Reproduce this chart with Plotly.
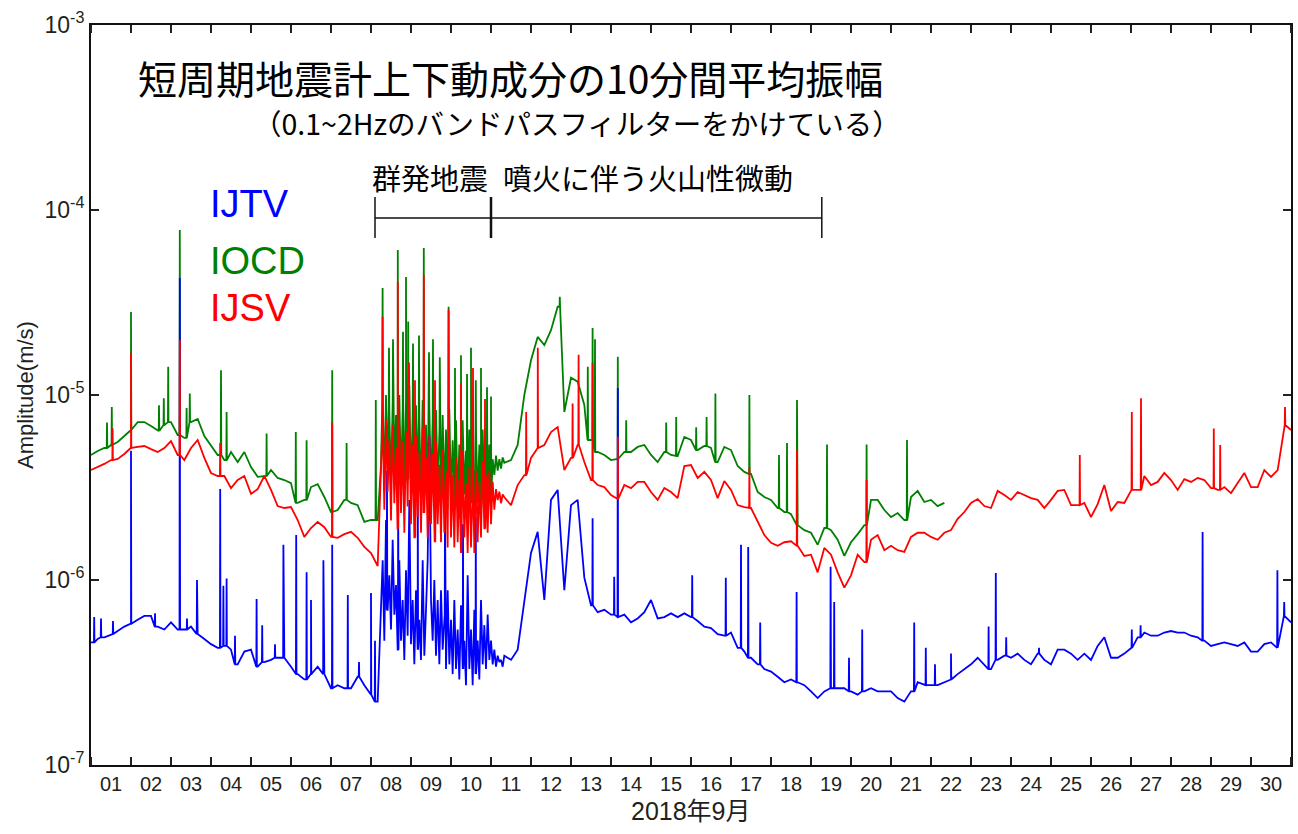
import numpy as np
import pandas as pd
import plotly.graph_objects as go

# 10-minute mean amplitude of short-period vertical seismometers, Sep 2018.
# Amplitudes are in micrometres per second (1e-6 m/s); time is in days from 2018-09-01 00:00.
UNIT = 1e-6
START = pd.Timestamp("2018-09-01")

t_before = np.arange(44) / 6            # every 4 h, Sep 1 00:00 - Sep 8 04:00
t_swarm = 7.25 + np.arange(75) / 24     # hourly through the earthquake swarm
t_after = np.arange(63, 181) / 6        # every 4 h, Sep 11 12:00 - Oct 1 00:00

# ---------------- IJTV ----------------
ijtv_before = [
    0.46, 0.48, 0.49, 0.51, 0.53, 0.56,
    0.58, 0.61, 0.64, 0.64, 0.56, 0.54,
    0.59, 0.54, 0.54, 0.56, 0.51, 0.48,
    0.45, 0.43, 0.44, 0.42, 0.35, 0.41,
    0.42, 0.34, 0.36, 0.37, 0.38, 0.38,
    0.34, 0.31, 0.29, 0.31, 0.34, 0.31,
    0.26, 0.27, 0.26, 0.26, 0.30, 0.27,
    0.24, 0.22,
]
ijtv_swarm = [
    0.78, 1.28, 0.47, 2.11, 0.69, 1.06, 0.54, 1.65, 0.65, 0.94,
    0.42, 1.28, 0.47, 0.78, 0.37, 1.13, 0.50, 2.71, 0.45, 0.78,
    0.35, 0.88, 0.42, 0.61, 0.37, 1.28, 0.39, 0.69, 1.28, 6.0,
    0.78, 0.47, 1.00, 0.39, 0.78, 0.35, 0.88, 0.42, 0.65, 0.33,
    0.88, 0.35, 0.61, 0.31, 0.78, 0.33, 0.54, 0.29, 0.73, 0.33,
    0.47, 0.27, 1.06, 0.33, 0.54, 0.27, 0.69, 0.31, 0.47, 0.29,
    0.78, 0.35, 0.57, 0.33, 0.65, 0.37, 0.47, 0.35, 0.42, 0.34,
    0.39, 0.36, 0.37, 0.34, 0.39,
]
ijtv_after = [
    0.37, 0.42, 0.78, 1.40, 1.82, 0.78,
    2.71, 3.07, 0.88, 2.54, 2.71, 1.03,
    0.73, 0.67, 0.69, 0.65, 0.63, 0.65,
    0.59, 0.62, 0.67, 0.78, 0.62, 0.63,
    0.66, 0.63, 0.66, 0.63, 0.60, 0.56,
    0.55, 0.51, 0.50, 0.52, 0.43, 0.41,
    0.38, 0.35, 0.33, 0.32, 0.30, 0.28,
    0.29, 0.28, 0.27, 0.25, 0.23, 0.25,
    0.26, 0.26, 0.26, 0.25, 0.24, 0.25,
    0.26, 0.25, 0.25, 0.25, 0.23, 0.22,
    0.25, 0.28, 0.27, 0.27, 0.27, 0.28,
    0.29, 0.31, 0.33, 0.35, 0.38, 0.35,
    0.33, 0.37, 0.39, 0.38, 0.40, 0.37,
    0.35, 0.40, 0.37, 0.35, 0.42, 0.42,
    0.40, 0.37, 0.40, 0.37, 0.44, 0.49,
    0.38, 0.38, 0.40, 0.43, 0.49, 0.52,
    0.50, 0.50, 0.52, 0.53, 0.52, 0.52,
    0.50, 0.49, 0.47, 0.44, 0.45, 0.46,
    0.45, 0.44, 0.46, 0.41, 0.41, 0.45,
    0.46, 0.43, 0.64, 0.59,
]
# isolated events: (day, peak amplitude)
ijtv_spikes = [
    (0.08, 0.63), (0.25, 0.62), (0.55, 0.60), (1.00, 5.0), (1.60, 0.66),
    (2.22, 42.9), (2.40, 0.62), (2.65, 1.00), (3.23, 3.1), (3.31, 0.93),
    (3.39, 1.02), (3.60, 0.50), (4.14, 0.79), (4.28, 0.57), (4.60, 0.45),
    (4.81, 1.55), (5.13, 1.75), (5.39, 1.10), (5.50, 0.78), (5.81, 1.28),
    (6.03, 1.55), (6.42, 0.83), (6.70, 0.36), (7.00, 0.85), (7.10, 0.47),
    (7.40, 3.9), (7.68, 3.5), (8.17, 3.3), (8.85, 2.4), (9.30, 2.0), (9.62, 2.2),
    (12.54, 2.16), (13.08, 1.04), (13.17, 10.9), (15.03, 1.06), (15.87, 1.03),
    (16.25, 1.55), (16.43, 1.51), (16.73, 0.59), (17.64, 0.86), (18.49, 1.18),
    (18.58, 0.76), (18.95, 0.38), (19.28, 0.54), (20.58, 0.59), (20.87, 0.43),
    (21.10, 0.35), (21.50, 0.40), (22.44, 0.56), (22.62, 1.09), (22.88, 0.49),
    (23.70, 0.43), (26.02, 0.54), (26.24, 0.57), (27.79, 1.82), (29.66, 1.13),
    (29.83, 0.76),
]

# ---------------- IOCD ----------------
iocd_before = [
    4.74, 4.98, 5.17, 5.37, 5.57, 6.00,
    6.47, 7.14, 7.14, 6.80, 6.39, 6.88,
    7.14, 6.08, 5.86, 7.14, 7.42, 6.00,
    5.37, 4.74, 4.45, 4.92, 4.34, 4.92,
    4.08, 3.61, 3.65, 3.93, 3.56, 3.47,
    3.34, 2.61, 2.71, 3.18, 3.30, 2.81,
    2.33, 2.39, 2.71, 2.61, 2.54, 2.06,
    2.11, 2.11,
]
iocd_swarm = [
    4.2, 9.4, 3.0, 10.0, 3.8, 8.3, 3.1, 9.4, 3.6, 7.8,
    2.8, 10.0, 3.3, 8.3, 2.7, 9.4, 3.5, 11.3, 3.0, 7.8,
    2.6, 8.8, 3.2, 7.3, 2.7, 9.4, 3.4, 6.9, 2.6, 8.8,
    3.0, 7.3, 2.5, 8.3, 3.2, 6.5, 2.5, 7.8, 2.9, 6.5,
    2.4, 8.3, 2.8, 5.7, 2.4, 7.3, 2.6, 5.4, 2.3, 7.3,
    2.9, 5.0, 2.3, 6.5, 2.6, 5.0, 2.2, 6.1, 2.6, 5.4,
    2.4, 6.5, 2.8, 5.7, 2.6, 5.4, 2.8, 4.5, 3.7, 4.7,
    3.9, 4.5, 4.0, 4.6, 4.3,
]
# the IOCD record stops on Sep 22
iocd_after = [
    4.45, 5.37, 10.0, 15.4, 20.6, 18.6,
    22.4, 30.0, 8.09, 12.4, 11.8, 8.83,
    5.71, 4.92, 4.74, 4.45, 4.51, 4.92,
    4.92, 5.24, 5.37, 4.74, 4.34, 4.92,
    4.74, 4.68, 5.93, 5.71, 5.04, 5.30,
    5.17, 4.34, 5.24, 5.04, 4.13, 3.84,
    3.74, 2.99, 2.81, 2.71, 2.45, 2.33,
    2.27, 1.98, 1.86, 1.80, 1.55, 1.91,
    1.86, 1.65, 1.35, 1.60, 1.77, 1.98,
    2.71, 2.71, 2.39, 2.19, 2.30, 2.11,
    2.81, 3.03, 2.64, 2.71, 2.51, 2.61,
]
iocd_spikes = [
    (0.40, 7.1), (0.52, 8.6), (1.00, 28.1), (1.70, 8.8), (1.82, 9.6),
    (1.93, 14.2), (2.22, 78.0), (2.39, 8.5), (2.47, 10.2), (3.25, 13.6),
    (3.39, 8.1), (4.39, 6.2), (5.12, 6.3), (5.39, 5.7), (6.03, 13.6),
    (6.39, 5.5), (7.12, 9.4),
    (7.29, 37.9), (7.45, 18.0), (7.55, 20.0), (7.67, 60.8), (7.80, 22.0),
    (7.875, 43.4), (7.93, 25.0), (8.05, 19.0), (8.20, 21.0), (8.32, 62.3),
    (8.45, 17.0), (8.55, 20.0), (8.72, 16.0), (8.94, 30.0), (9.10, 14.0),
    (9.25, 16.4), (9.40, 13.0), (9.50, 18.0), (9.62, 12.0), (9.75, 14.0),
    (9.90, 11.0), (10.00, 9.8),
    (11.72, 34.0), (12.42, 14.2), (12.54, 23.0), (12.60, 20.0), (13.17, 16.1),
    (13.38, 7.3), (14.38, 7.1), (14.63, 7.6), (15.13, 6.7), (15.39, 7.6),
    (15.61, 10.2), (16.46, 10.0), (17.20, 4.74), (17.40, 5.5), (17.65, 9.4),
    (18.40, 5.4), (19.39, 5.4), (20.40, 5.71),
]

# ---------------- IJSV ----------------
ijsv_before = [
    3.93, 4.08, 4.24, 4.45, 4.51, 4.80,
    5.17, 5.24, 5.30, 5.10, 4.92, 5.17,
    5.64, 4.74, 4.45, 5.17, 5.71, 4.57,
    3.79, 3.65, 3.65, 3.14, 3.47, 3.65,
    2.92, 3.10, 3.65, 3.07, 2.51, 2.45,
    2.48, 2.11, 1.71, 1.91, 2.06, 1.93,
    1.71, 1.69, 1.77, 1.82, 1.69, 1.51,
    1.40, 1.19,
]
ijsv_swarm = [
    3.9, 6.5, 2.4, 7.4, 3.0, 5.8, 2.1, 6.9, 2.6, 5.2,
    1.9, 6.8, 2.3, 5.6, 1.8, 6.3, 2.5, 7.8, 2.0, 5.4,
    1.7, 6.0, 2.2, 5.0, 1.8, 6.6, 2.3, 4.6, 1.7, 6.0,
    2.0, 4.8, 1.6, 5.6, 2.0, 4.2, 1.6, 5.1, 1.8, 3.9,
    1.5, 5.4, 1.7, 3.7, 1.5, 4.6, 1.6, 3.5, 1.4, 5.0,
    1.7, 3.3, 1.4, 4.1, 1.5, 3.1, 1.4, 3.9, 1.6, 3.4,
    1.7, 4.4, 1.9, 3.7, 1.8, 3.9, 2.0, 3.4, 2.4, 3.1,
    2.7, 3.0, 2.6, 2.9, 2.8,
]
ijsv_after = [
    2.54, 3.26, 3.69, 4.57, 5.17, 5.37,
    6.31, 6.71, 3.93, 4.57, 5.37, 4.34,
    3.47, 3.26, 3.18, 2.88, 2.74, 3.26,
    3.14, 3.39, 3.39, 2.99, 2.71, 3.14,
    2.99, 2.77, 4.13, 4.18, 3.56, 3.84,
    3.47, 2.77, 3.43, 3.07, 2.54, 2.48,
    2.45, 2.06, 1.75, 1.59, 1.53, 1.60,
    1.62, 1.53, 1.35, 1.37, 1.10, 1.49,
    1.37, 1.10, 0.91, 1.06, 1.37, 1.25,
    1.65, 1.75, 1.45, 1.53, 1.45, 1.42,
    1.71, 1.80, 1.80, 1.71, 1.65, 1.80,
    1.86, 2.14, 2.33, 2.61, 2.74, 2.51,
    2.45, 3.03, 2.88, 2.71, 2.99, 2.88,
    2.77, 2.71, 2.45, 2.71, 3.03, 3.07,
    2.54, 2.54, 2.61, 2.19, 2.57, 3.26,
    2.36, 2.64, 2.61, 3.07, 3.07, 3.65,
    3.26, 3.39, 3.79, 3.47, 3.07, 3.51,
    3.39, 3.56, 3.47, 3.14, 3.07, 3.18,
    2.95, 3.34, 3.79, 3.18, 3.18, 3.93,
    3.61, 3.93, 6.88, 6.47,
]
ijsv_spikes = [
    (0.54, 6.6), (1.00, 16.9), (2.22, 19.8), (3.23, 5.5), (6.03, 7.1),
    (7.29, 26.5), (7.67, 41.0), (7.95, 15.0), (8.10, 12.0), (8.32, 44.5),
    (8.60, 12.0), (8.94, 28.8), (9.25, 11.6), (9.55, 14.0), (9.85, 9.5),
    (10.88, 8.1), (11.17, 18.0), (12.04, 9.0), (12.19, 16.5), (12.54, 14.9),
    (13.17, 5.95), (16.46, 4.08), (17.65, 5.04), (19.39, 3.47), (24.72, 4.74),
    (26.02, 8.1), (26.25, 9.6), (28.07, 6.6), (28.23, 5.37), (29.85, 8.6),
]

# activity periods marked above the traces (days)
swarm_start = 7.10
tremor_start = 10.00
tremor_end = 18.27

HALF = 1 / 144  # half width of a single 10-minute sample


def to_date(days):
    return START + pd.to_timedelta(np.asarray(days, dtype=float), unit="D")


def build(segments, spikes):
    t = np.concatenate([np.asarray(ts)[:len(vs)] for ts, vs in segments])
    v = np.concatenate([np.asarray(vs, dtype=float) for _, vs in segments])
    pts = list(zip(t, v))
    for ts, peak in spikes:
        foot = v[np.argmin(np.abs(t - ts))]
        pts += [(ts - HALF, foot), (ts, peak), (ts + HALF, foot)]
    pts.sort()
    tt = np.array([p[0] for p in pts])
    vv = np.array([p[1] for p in pts]) * UNIT
    return to_date(tt), vv


stations = [
    ("IOCD", "#008000", [(t_before, iocd_before), (t_swarm, iocd_swarm), (t_after, iocd_after)], iocd_spikes),
    ("IJTV", "#0000ff", [(t_before, ijtv_before), (t_swarm, ijtv_swarm), (t_after, ijtv_after)], ijtv_spikes),
    ("IJSV", "#ff0000", [(t_before, ijsv_before), (t_swarm, ijsv_swarm), (t_after, ijsv_after)], ijsv_spikes),
]

fig = go.Figure()
for name, color, segs, spk in stations:
    x, y = build(segs, spk)
    fig.add_trace(go.Scatter(x=x, y=y, mode="lines", name=name,
                             line=dict(color=color, width=1.8), showlegend=False))

L, R, T, B = 91, 7, 25, 69
W, H = 1298, 834
PW, PH = W - L - R, H - T - B


def px(xp):
    return (xp - L) / PW


def py(yp):
    return (T + PH - yp) / PH


TXT = "#231f20"
LATIN = "Liberation Sans, Arial, sans-serif"
JP = "Noto Sans CJK JP, sans-serif"

fig.update_layout(
    width=W, height=H,
    margin=dict(l=L, r=R, t=T, b=B),
    paper_bgcolor="white", plot_bgcolor="white",
    xaxis=dict(
        type="date", range=[START, START + pd.Timedelta(days=30)],
        tick0=START, dtick=86400000, tickformat="%d", ticklabelmode="period",
        ticks="inside", ticklen=8, tickwidth=1.5, tickcolor="#222",
        showline=True, linecolor="#111", linewidth=2, mirror="ticks",
        showgrid=False, zeroline=False,
        tickfont=dict(family=LATIN, size=20, color=TXT),
    ),
    yaxis=dict(
        type="log", range=[-7, -3],
        tickvals=[1e-7, 1e-6, 1e-5, 1e-4, 1e-3],
        ticktext=["10<sup>-7</sup>", "10<sup>-6</sup>", "10<sup>-5</sup>",
                  "10<sup>-4</sup>", "10<sup>-3</sup>"],
        ticks="inside", ticklen=8, tickwidth=1.5, tickcolor="#222",
        showline=True, linecolor="#111", linewidth=2, mirror="ticks",
        showgrid=False, zeroline=False, automargin=False,
        tickfont=dict(family=LATIN, size=23, color=TXT),
    ),
)

ann = [
    dict(x=px(136), y=py(77), text="短周期地震計上下動成分の10分間平均振幅",
         xanchor="left", yanchor="middle", font=dict(family=JP, size=39, color="black")),
    dict(x=px(251), y=py(122), text="（0.1~2Hzのバンドパスフィルターをかけている）",
         xanchor="left", yanchor="middle", font=dict(family=JP, size=28.5, color="black")),
    dict(x=px(370), y=py(177), text="群発地震",
         xanchor="left", yanchor="middle", font=dict(family=JP, size=29, color="black")),
    dict(x=px(501), y=py(177), text="噴火に伴う火山性微動",
         xanchor="left", yanchor="middle", font=dict(family=JP, size=29, color="black")),
    dict(x=px(208), y=py(204), text="IJTV", xanchor="left", yanchor="middle",
         font=dict(family=LATIN, size=38, color="#0000ff")),
    dict(x=px(208), y=py(261), text="IOCD", xanchor="left", yanchor="middle",
         font=dict(family=LATIN, size=38, color="#008000")),
    dict(x=px(208), y=py(308), text="IJSV", xanchor="left", yanchor="middle",
         font=dict(family=LATIN, size=38, color="#ff0000")),
    dict(x=px(25), y=py(395), text="Amplitude(m/s)", textangle=-90,
         xanchor="center", yanchor="middle",
         font=dict(family=LATIN, size=22, color=TXT)),
    dict(x=0.5, y=py(811), text="2018年9月", xanchor="center", yanchor="middle",
         font=dict(family="Liberation Sans, Arial, Noto Sans CJK JP", size=25, color=TXT)),
]
for a in ann:
    a.update(xref="paper", yref="paper", showarrow=False)
    fig.add_annotation(**a)

# bracket marking the swarm and the eruption tremor periods
y_bar, y_lo, y_hi = py(218), py(238), py(197)
d0, d1, d2 = (str(to_date([d])[0]) for d in (swarm_start, tremor_start, tremor_end))
shapes = [
    dict(x0=d0, x1=d2, y0=y_bar, y1=y_bar, w=1.5),
    dict(x0=d0, x1=d0, y0=y_lo, y1=y_hi, w=1.5),
    dict(x0=d1, x1=d1, y0=y_lo, y1=y_hi, w=2.5),
    dict(x0=d2, x1=d2, y0=y_lo, y1=y_hi, w=1.5),
]
for s in shapes:
    fig.add_shape(type="line", xref="x", yref="paper", x0=s["x0"], x1=s["x1"],
                  y0=s["y0"], y1=s["y1"], line=dict(color="#111", width=s["w"]))

fig.write_html("out.html")
